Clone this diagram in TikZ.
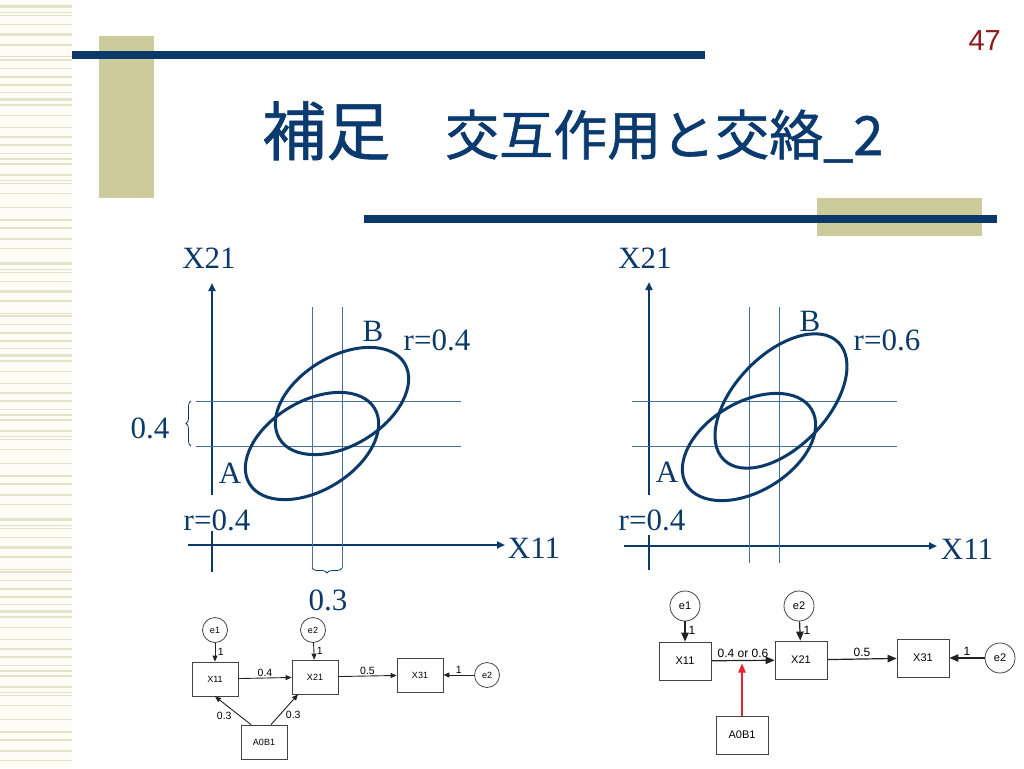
\documentclass[tikz,border=0pt]{standalone}
\usepackage{fontspec}
\setmainfont{Liberation Serif}
\setsansfont{Liberation Sans}
\newfontfamily\jpfont[FakeBold=1]{Noto Sans CJK JP}
\usepackage{tikz}
\usetikzlibrary{arrows.meta,calc,decorations.pathreplacing}
\definecolor{navyc}{HTML}{0B3A6A}
\definecolor{titlec}{HTML}{0A3A6E}
\definecolor{gridc}{HTML}{47709A}
\definecolor{khaki}{HTML}{CCCB9C}
\definecolor{stripc}{HTML}{E3E2C8}
\definecolor{stripbg}{HTML}{FDFDF5}
\definecolor{pagec}{HTML}{8E1B1B}
\definecolor{edgec}{HTML}{222222}
\definecolor{redc}{HTML}{E8232B}
\tikzset{
  bar/.style={fill=navyc,draw=none},
  axis/.style={-{Triangle[length=8pt,width=7pt]},line width=2.4pt,navyc},
  guide/.style={gridc,line width=0.9pt},
  ell/.style={navyc,line width=3pt},
  lbl/.style={text=navyc,inner sep=0pt,font=\fontsize{31}{31}\selectfont},
  brc/.style={decorate,decoration={brace,amplitude=5pt},navyc,line width=0.8pt},
  vbox/.style={draw=edgec!85,line width=0.8pt,inner sep=0pt},
  ecirc/.style={circle,draw=edgec!85,line width=0.8pt,inner sep=0pt},
  pth/.style={-{Triangle[length=7pt,width=6pt]},line width=0.9pt,edgec},
  plab/.style={inner sep=1pt,text=black}
}
\begin{document}
\begin{tikzpicture}[x=1pt,y=-1pt]
\useasboundingbox (0,0) rectangle (1024,768);
% striped margin
\fill[stripbg] (0,0) rectangle (72,768);
\foreach \off in {0,256,512}
  \foreach \yy/\ww in {7/3,13/1,16/1,25/1,35/3,45/1.5,57/1,60/1.5,68/1,77/2,85/1.5,92/1,99/3,105/1.5,115/1,127/1,137/2,145/2,153/1,159/2.5,164/1.5,175/2.5,180/1,183/1,193/1,207/1,220/2.5,228/2,239/2,248/1}
    \draw[stripc,line width=\ww pt] (0,\off+\yy) -- (72,\off+\yy);
% header
\fill[khaki] (99,36) rectangle (154,198);
\fill[bar] (72,51) rectangle (705,59);
\fill[khaki] (817,198) rectangle (982,236);
\fill[bar] (364,215) rectangle (997,223);
\node[anchor=base west,inner sep=0pt,text=titlec,font=\jpfont\fontsize{64}{64}\selectfont] (ttlA) at (262,155) {補足};
\node[anchor=base west,inner sep=0pt,text=titlec,font=\jpfont\fontsize{54}{54}\selectfont] (ttlB) at (445,155) {交互作用と交絡\_2};
\node[anchor=base east,inner sep=0pt,text=pagec,font=\sffamily\fontsize{29}{29}\selectfont] (pgno) at (1001,50) {47};

% left plot: r=0.4 / r=0.4
\draw[axis] (212,495) -- (212,283);
\draw[navyc,line width=2.4pt] (212,531) -- (212,572);
\draw[axis] (188,545) -- (505,545);
\draw[guide] (312,307) -- (312,568);
\draw[guide] (342,307) -- (342,568);
\draw[guide] (196,401) -- (461,401);
\draw[guide] (196,446) -- (461,446);
\draw[ell,rotate around={31:(312,446)}] (312,446) ellipse [x radius=73,y radius=44.6];
\draw[ell,rotate around={31:(342,401)}] (342,401) ellipse [x radius=73,y radius=44.6];
\draw[brc] (191,446) -- (191,401);
\draw[brc] (342,568) -- (312,568);
\node[lbl] (ylabL) at (209,258) {X21};
\node[lbl] (xlabL) at (534,548) {X11};
\node[lbl] (bL) at (373,331) {B};
\node[lbl] (rbL) at (437,340) {r=0.4};
\node[lbl] (aL) at (230,473) {A};
\node[lbl] (raL) at (217,520) {r=0.4};
\node[lbl] (dyL) at (150,428) {0.4};
\node[lbl] (dxL) at (328,600) {0.3};

% right plot: r=0.4 / r=0.6
\draw[axis] (649,495) -- (649,282);
\draw[navyc,line width=2.4pt] (649,535) -- (649,570);
\draw[axis] (624,546) -- (937,546);
\draw[guide] (749,307) -- (749,563);
\draw[guide] (779,307) -- (779,563);
\draw[guide] (632,401) -- (897,401);
\draw[guide] (632,446) -- (897,446);
\draw[ell,rotate around={31:(749,447)}] (749,447) ellipse [x radius=73,y radius=44.6];
\draw[ell,rotate around={46:(781,401)}] (781,401) ellipse [x radius=82,y radius=46.3];
\node[lbl] (ylabR) at (645,258) {X21};
\node[lbl] (xlabR) at (967,549) {X11};
\node[lbl] (bR) at (810,321) {B};
\node[lbl] (rbR) at (887,340) {r=0.6};
\node[lbl] (aR) at (667,472) {A};
\node[lbl] (raR) at (652,520) {r=0.4};

% path diagram, left
\begin{scope}[vbox/.append style={minimum width=46,minimum height=34,font=\sffamily\fontsize{9}{9}\selectfont},
  ecirc/.append style={minimum size=25,font=\sffamily\fontsize{9}{9}\selectfont},
  plab/.append style={font=\sffamily\fontsize{10.5}{10.5}\selectfont},
  pth/.append style={-{Triangle[length=6pt,width=5pt]}}]
\node[ecirc] (e1L) at (215,630) {e1};
\node[ecirc] (e2L) at (313,630) {e2};
\node[vbox] (x11L) at (215,679) {X11};
\node[vbox] (x21L) at (315,677) {X21};
\node[vbox] (x31L) at (420,675) {X31};
\node[ecirc] (e3L) at (487,675) {e2};
\node[vbox] (abL) at (264,742) {A0B1};
\draw[pth] (e1L) -- node[plab,right=1.5pt]{1} (x11L);
\draw[pth] (e2L) -- node[plab,right=1.5pt]{1} (x21L);
\draw[pth] (x11L) -- node[plab,above]{0.4} (x21L);
\draw[pth] (x21L) -- node[plab,above]{0.5} (x31L);
\draw[pth] (e3L) -- node[plab,above]{1} (x31L);
\draw[pth] ([xshift=-13]abL.north) -- node[plab,below left=0pt]{0.3} (x11L.south);
\draw[pth] ([xshift=7]abL.north) -- node[plab,below right=0pt]{0.3} ([xshift=-17]x21L.south);
\end{scope}

% path diagram, right
\begin{scope}[vbox/.append style={minimum width=52,minimum height=38,font=\sffamily\fontsize{11}{11}\selectfont},
  ecirc/.append style={minimum size=30,font=\sffamily\fontsize{11}{11}\selectfont},
  plab/.append style={font=\sffamily\fontsize{12}{12}\selectfont},
  pth/.append style={-{Triangle[length=9pt,width=7.5pt]},line width=1.2pt}]
\node[ecirc] (e1R) at (685,606) {e1};
\node[ecirc] (e2R) at (799,606) {e2};
\node[vbox] (x11R) at (685,661) {X11};
\node[vbox] (x21R) at (801,660) {X21};
\node[vbox] (x31R) at (923,658) {X31};
\node[ecirc] (e3R) at (1000,658) {e2};
\node[vbox] (abR) at (742,735) {A0B1};
\coordinate (mR) at ($(x11R.east)!0.5!(x21R.west)$);
\draw[pth] (e1R) -- node[plab,right=2pt,pos=0.45]{1} (x11R);
\draw[pth] (e2R) -- node[plab,right=2pt,pos=0.45]{1} (x21R);
\draw[pth] (x11R) -- node[plab,above=1pt]{0.4 or 0.6} (x21R);
\draw[pth] (x21R) -- node[plab,above=1pt]{0.5} (x31R);
\draw[pth] (e3R) -- node[plab,above=1pt]{1} (x31R);
\draw[pth,redc,shorten >=3pt] (abR.north) -- (abR.north |- mR);
\end{scope}
\end{tikzpicture}
\end{document}
